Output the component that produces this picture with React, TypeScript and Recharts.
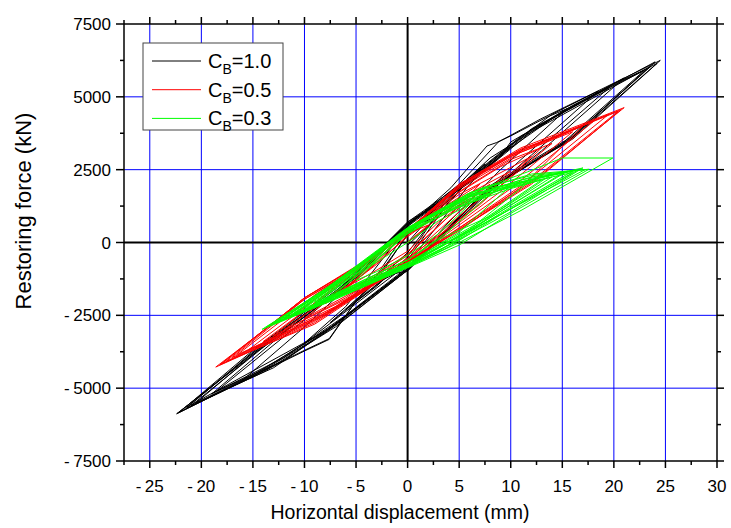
import React from 'react';
import { ScatterChart, Scatter, XAxis, YAxis, ReferenceLine } from 'recharts';

type P = [number, number];

// C_B = 1.0 (black)
const cb10: P[] = [
  [0, 0], [2.5, 1000], [5, 1750], [2.5, 800], [0, -350], [-2.5, -1150], [-5, -1850], [-2.5, -950], [0, 250],
  [3.5, 1450], [7.5, 2700], [4, 1400], [0, -600], [-4, -1750], [-7.5, -2750], [-4, -1650], [0, 450],
  [3, 1200], [6, 2200], [3.5, 1300], [0, -500], [-3, -1500], [-6, -2300], [-3, -1300], [0, 300],
  [5, 1900], [10, 3300], [6, 2000], [0, -750], [-5, -2100], [-10, -3450], [-6, -2200], [0, 550],
  [4.2, 1880], [7.7, 3314], [8.6, 3427], [10, 3657], [13.4, 4285], [15.5, 4600], [9, 2500], [4, 700], [0, -850],
  [-2.5, -1300], [-5, -2010], [-7.6, -3325], [-10, -3725], [-16.3, -4815], [-10, -2900], [-5, -1250], [0, 600],
  [5, 1900], [10, 3350], [14, 4400], [18.5, 5200], [11, 2850], [5, 900], [0, -900], [-6, -2550], [-12, -4050],
  [-18.5, -5100], [-11, -2950], [-5, -1150], [0, 650],
  [4, 1600], [8, 2900], [14, 4250], [19.5, 5300], [12, 3000], [5, 800], [0, -850], [-6, -2500], [-12, -3950],
  [-19, -5200], [-12, -3100], [-5, -1200], [0, 550],
  [5, 1850], [10, 3250], [15, 4500], [21, 5650], [13, 3150], [6, 1200], [0, -950], [-6, -2600], [-13, -4300],
  [-20.5, -5500], [-13, -3250], [-6, -1400], [0, 700],
  [5, 1800], [9, 2950], [10, 3450], [16, 4700], [22.9, 5890], [15, 3400], [7, 1600], [0, -950], [-7, -2900],
  [-14, -4450], [-21.5, -5700], [-14, -3450], [-6, -1450], [0, 700],
  [5, 1950], [11, 3650], [20, 5450], [23.2, 5950], [15.5, 3450], [7.5, 1750], [0, -900], [-7, -2800], [-14, -4350],
  [-21, -5600], [-14, -3600], [-6, -1500], [0, 600],
  [5, 2000], [8.8, 3450], [10, 3680], [12.9, 4240], [24.5, 6250], [16, 3600], [8, 1850], [0, -980], [-2.5, -1150],
  [-5, -2010], [-7.6, -3300], [-10, -3700], [-16.3, -4800], [-22.4, -5880], [-15, -3850], [-7, -1750], [0, 650],
  [6, 2150], [12, 3900], [18, 5050], [24.2, 6150], [16, 3550], [8, 1900], [0, -900], [-8, -3100], [-15, -4600],
  [-22.1, -5820], [-15, -3700], [-7, -1600], [0, 600],
  [6, 2100], [12, 3850], [19, 5250], [24, 6200], [16, 3650], [8, 1950], [0, -950], [-8, -3050], [-15, -4550],
  [-22.3, -5860], [-15, -3800], [-7, -1700], [0, 650],
  [6, 2050], [12, 3800], [23.6, 6050], [15.5, 3500], [8, 1900], [0, -900], [-8, -3050], [-21.4, -5650],
  [-14, -3500], [-5, -1200], [0, 500], [3, 900], [0, -100],
];

// C_B = 0.5 (red)
const cb05: P[] = [
  [0, 0], [3, 850], [6, 1500], [3, 700], [0, -300], [-3, -950], [-6, -1550], [-3, -750], [0, 250],
  [4, 1150], [8, 2000], [4, 900], [0, -450], [-4, -1350], [-8, -2100], [-4, -1000], [0, 350],
  [3, 1100], [7, 2000], [4, 900], [0, -400], [-4, -1300], [-7, -1900], [-3, -700], [0, 200],
  [5, 1500], [10, 2450], [5, 1050], [0, -550], [-5, -1650], [-10, -2600], [-5, -1250], [0, 400],
  [5, 1650], [12, 2950], [6, 1200], [0, -600], [-6, -1950], [-12, -3000], [-6, -1450], [0, 450],
  [4, 1500], [9, 2600], [13, 3250], [7, 1300], [0, -550], [-6, -1900], [-13, -3200], [-7, -1500], [0, 350],
  [5, 1750], [10, 2850], [14, 3400], [7, 1350], [0, -650], [-7, -2200], [-14, -3400], [-7, -1550], [0, 450],
  [5, 1850], [11, 3100], [16, 3800], [9, 1750], [0, -650], [-7, -2250], [-15.5, -3700], [-8, -1700], [0, 450],
  [5, 1900], [10, 2950], [17, 4000], [11, 1900], [5, 400], [0, -650], [-8, -2450], [-16.5, -3850], [-9, -1800],
  [-4, -650], [0, 350],
  [5, 1950], [11, 3200], [18, 4150], [10, 1850], [4, 350], [0, -700], [-8, -2500], [-17, -3950], [-10, -1950],
  [-5, -900], [0, 400],
  [5, 2000], [11, 3200], [15, 3700], [19.5, 4400], [11, 1950], [5, 500], [0, -700], [-9, -2800], [-18, -4150],
  [-10, -1900], [-5, -850], [0, 400],
  [5, 1950], [11, 3150], [16, 3900], [20.7, 4560], [12, 2000], [5, 450], [0, -700], [-9, -2700], [-18.2, -4200],
  [-10, -1900], [-5, -850], [0, 380],
  [5, 2000], [11, 3250], [15, 3800], [21, 4630], [12, 2050], [5, 450], [0, -700], [-9, -2750], [-18.6, -4275],
  [-10, -1950], [-5, -900], [0, 350],
  [5, 1900], [10, 3000], [20.4, 4500], [12, 2100], [5, 500], [0, -650], [-9, -2650], [-17.6, -4080],
  [-10, -1900], [-4, -600], [0, 300], [2, 600], [0, 0],
];

// C_B = 0.3 (green)
const cb03: P[] = [
  [0, 0], [3, 750], [6, 1300], [3, 300], [0, -450], [-3, -1000], [-5, -1300], [-2.5, -450], [0, 300],
  [4, 1050], [8, 1650], [4, 400], [0, -600], [-4, -1250], [-7, -1750], [-3.5, -750], [0, 350],
  [5, 1300], [10, 1950], [5, 350], [0, -700], [-5, -1450], [-9, -2050], [-4.5, -950], [0, 400],
  [5, 1250], [9, 1800], [13, 2150], [7, 700], [2, -300], [0, -700], [-4, -1300], [-9, -2100], [-4, -850], [0, 300],
  [5, 1350], [12, 2150], [6, 450], [0, -750], [-5, -1500], [-10, -2250], [-5, -1050], [0, 450],
  [6, 1550], [14, 2350], [7, 650], [0, -800], [-6, -1700], [-11, -2450], [-5.5, -1100], [0, 450],
  [5, 1450], [11, 2150], [15, 2380], [8, 850], [3, -200], [0, -780], [-6, -1650], [-11.5, -2550], [-5.5, -1050], [0, 420],
  [6, 1600], [15.5, 2450], [8, 850], [3, -300], [0, -820], [-6, -1750], [-12, -2650], [-6, -1200], [0, 480],
  [6, 1600], [12, 2250], [16, 2450], [9, 1000], [4, -100], [0, -800], [-6, -1700], [-12, -2600], [-6, -1150], [0, 450],
  [7, 1800], [16.5, 2480], [9, 950], [4, -150], [0, -850], [-6.5, -1850], [-13, -2800], [-7, -1400], [0, 500],
  [6, 1700], [12, 2350], [17.2, 2500], [10, 1150], [5, 200], [0, -700], [-6, -1700], [-13, -2780], [-7, -1350], [0, 480],
  [7, 1850], [12, 2300], [17.6, 2517], [10, 1000], [5, -90], [0, -865], [-7, -1950], [-14.1, -2980], [-8, -1600], [0, 510],
  [6, 1700], [11.6, 2420], [15, 2900], [19.9, 2900], [11, 1100], [5, 0], [0, -850], [-7, -1900], [-13.6, -2880],
  [-7.5, -1500], [0, 450],
  [6, 1650], [13, 2250], [17, 2560], [10, 1050], [5, 100], [0, -800], [-6, -1750], [-12.5, -2700], [-6, -1200], [0, 400],
  [5, 1400], [12, 2100], [16, 2400], [9, 950], [4, 0], [0, -750], [-5, -1500], [-11, -2450], [-5, -1000], [0, 350],
  [4, 1100], [10, 1850], [14, 2250], [8, 900], [3, 100], [0, -600], [-4, -1250], [-8, -1950], [-4, -900], [0, 0],
];

const xTicks = [-27.5, -25, -22.5, -20, -17.5, -15, -12.5, -10, -7.5, -5, -2.5, 0, 2.5, 5, 7.5, 10, 12.5, 15, 17.5, 20, 22.5, 25, 27.5, 30];
const xGridValues = [-25, -20, -15, -10, -5, 5, 10, 15, 20, 25];
const yTicks = [-7500, -6250, -5000, -3750, -2500, -1250, 0, 1250, 2500, 3750, 5000, 6250, 7500];
const yGridValues = [-5000, -2500, 2500, 5000];

const seriesNames = ['1.0', '0.5', '0.3'];
const seriesColors = ['#000000', '#ff0000', '#00ff00'];

const FONT = '"Liberation Sans", Arial, Helvetica, sans-serif';

const toPts = (a: P[]) => a.map(([x, y]) => ({ x, y }));

const isMajorX = (v: number) => Math.abs(v % 5) < 1e-9;
const isMajorY = (v: number) => Math.abs(v % 2500) < 1e-9;
const fmt = (v: number) => (v < 0 ? `-\u2009${Math.abs(v)}` : `${v}`);

const NoDot = () => <g />;

const BottomTick = (props: any) => {
  const { x, y, payload } = props;
  const v = payload.value;
  const major = isMajorX(v);
  return (
    <g>
      <line x1={x} x2={x} y1={y} y2={y + (major ? 7 : 4)} stroke="#000" strokeWidth={1.5} />
      {major && (
        <text x={x} y={y + 31} textAnchor="middle" fontSize={17} fontFamily={FONT} fill="#000">
          {fmt(v)}
        </text>
      )}
    </g>
  );
};

const TopTick = (props: any) => {
  const { x, y, payload } = props;
  const major = isMajorX(payload.value);
  return <line x1={x} x2={x} y1={y} y2={y - (major ? 7 : 4)} stroke="#000" strokeWidth={1.5} />;
};

const LeftTick = (props: any) => {
  const { x, y, payload } = props;
  const v = payload.value;
  const major = isMajorY(v);
  return (
    <g>
      <line x1={x} x2={x - (major ? 8 : 4)} y1={y} y2={y} stroke="#000" strokeWidth={1.5} />
      {major && (
        <text x={x - 13} y={y} dy="0.36em" textAnchor="end" fontSize={17} fontFamily={FONT} fill="#000">
          {fmt(v)}
        </text>
      )}
    </g>
  );
};

const RightTick = (props: any) => {
  const { x, y, payload } = props;
  const major = isMajorY(payload.value);
  return <line x1={x} x2={x + (major ? 7 : 4)} y1={y} y2={y} stroke="#000" strokeWidth={1.5} />;
};

const axisLine = { stroke: '#000', strokeWidth: 1.5 };

export default function App() {
  const data = [toPts(cb10), toPts(cb05), toPts(cb03)];
  return (
    <div style={{ position: 'absolute', left: 0, top: 0, width: 731, height: 528, background: '#fff' }}>
      <ScatterChart width={731} height={528} margin={{ top: 23, right: 13, bottom: 0, left: 0 }}>
        <XAxis xAxisId="b" type="number" dataKey="x" orientation="bottom" domain={[-27.5, 30]} ticks={xTicks}
          interval={0} height={67} tickSize={0} tickMargin={0} tickLine={false} tick={<BottomTick />} axisLine={axisLine} allowDataOverflow />
        <XAxis xAxisId="t" type="number" dataKey="x" orientation="top" domain={[-27.5, 30]} ticks={xTicks}
          interval={0} height={1} tickSize={0} tickMargin={0} tickLine={false} tick={<TopTick />} axisLine={axisLine} allowDataOverflow />
        <YAxis yAxisId="l" type="number" dataKey="y" orientation="left" domain={[-7500, 7500]} ticks={yTicks}
          interval={0} width={124} tickSize={0} tickMargin={0} tickLine={false} tick={<LeftTick />} axisLine={axisLine} allowDataOverflow />
        <YAxis yAxisId="r" type="number" dataKey="y" orientation="right" domain={[-7500, 7500]} ticks={yTicks}
          interval={0} width={1} tickSize={0} tickMargin={0} tickLine={false} tick={<RightTick />} axisLine={axisLine} allowDataOverflow />
        {xGridValues.map((v) => (
          <ReferenceLine key={'gx' + v} xAxisId="b" yAxisId="l" x={v} stroke="#0000ff" strokeWidth={1} />
        ))}
        {yGridValues.map((v) => (
          <ReferenceLine key={'gy' + v} xAxisId="b" yAxisId="l" y={v} stroke="#0000ff" strokeWidth={1} />
        ))}
        <ReferenceLine xAxisId="b" yAxisId="l" x={0} stroke="#000" strokeWidth={2} />
        <ReferenceLine xAxisId="b" yAxisId="l" y={0} stroke="#000" strokeWidth={2} />
        {data.map((d, i) => (
          <Scatter key={seriesNames[i]} name={'CB=' + seriesNames[i]} data={d} xAxisId="b" yAxisId="l"
            line={{ stroke: seriesColors[i], strokeWidth: 1 }} lineJointType="linear" shape={NoDot}
            fill="none" isAnimationActive={false} />
        ))}
      </ScatterChart>
      <svg width={731} height={528} style={{ position: 'absolute', left: 0, top: 0, pointerEvents: 'none' }}>
        <rect x={143} y={43} width={140} height={87} fill="#fff" stroke="#444" strokeWidth={1} />
        {seriesNames.map((n, i) => {
          const yy = 61 + i * 28.7;
          return (
            <g key={n}>
              <line x1={152} x2={201} y1={yy} y2={yy} stroke={seriesColors[i]} strokeWidth={1} />
              <text x={208} y={yy + 7} fontSize={20} fontFamily={FONT} fill="#000">
                C<tspan fontSize={14} dy={6}>B</tspan><tspan dy={-6}>={n}</tspan>
              </text>
            </g>
          );
        })}
        <text x={400} y={519} textAnchor="middle" fontSize={19.5} fontFamily={FONT} fill="#000">
          Horizontal displacement (mm)
        </text>
        <text x={0} y={0} transform="translate(31, 211) rotate(-90)" textAnchor="middle" fontSize={22} fontFamily={FONT} fill="#000">
          Restoring force (kN)
        </text>
      </svg>
    </div>
  );
}
